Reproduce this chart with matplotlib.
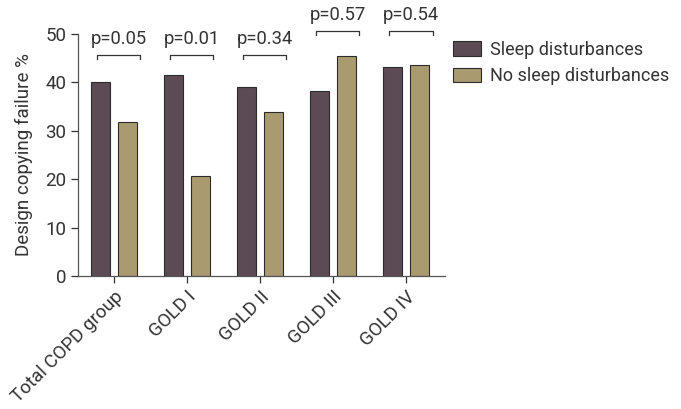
import numpy as np
from matplotlib import pyplot as plt

groups = ['Total COPD group', 'GOLD I', 'GOLD II', 'GOLD III', 'GOLD IV']
sleep = [40.0, 41.5, 38.9, 38.2, 43.0]
no_sleep = [31.8, 20.7, 33.8, 45.4, 43.6]
p_values = ['p=0.05', 'p=0.01', 'p=0.34', 'p=0.57', 'p=0.54']
bracket_y = [45.6, 45.6, 45.6, 50.6, 50.6]

dark = '#5c4b54'
light = '#a99b6f'
grey = '#333333'

plt.rcParams['font.family'] = ['Roboto', 'DejaVu Sans']

fig = plt.figure(figsize=(6.81, 4.09), dpi=100)
ax = fig.add_axes([0.1145, 0.3252, 0.539, 0.5928])

x = np.arange(len(groups))
w = 0.26
ax.bar(x - 0.185, sleep, w, color=dark, edgecolor='#2b2b2b', linewidth=0.8,
       label='Sleep disturbances')
ax.bar(x + 0.185, no_sleep, w, color=light, edgecolor='#2b2b2b', linewidth=0.8,
       label='No sleep disturbances')

# significance brackets
for i in range(len(groups)):
    y = bracket_y[i]
    x0, x1 = x[i] - 0.23, x[i] + 0.36
    ax.plot([x0, x0, x1, x1], [y - 0.8, y, y, y - 0.8], color=grey,
            linewidth=0.9, clip_on=False)
    ax.text((x0 + x1) / 2, y + 1.4, p_values[i], ha='center', va='bottom',
            fontsize=13.2, color=grey, clip_on=False)

ax.set_xlim(-0.49, 4.53)
ax.set_ylim(0, 50)
ax.set_yticks(range(0, 51, 10))
ax.set_xticks(x)
ax.set_xticklabels(groups, rotation=45, ha='right', rotation_mode='anchor')
ax.tick_params(axis='both', labelsize=13.5, colors=grey, direction='out',
               length=5, width=0.9)
ax.set_ylabel('Design copying failure %', fontsize=13.5, color=grey, labelpad=9)

for s in ['top', 'right']:
    ax.spines[s].set_visible(False)
for s in ['left', 'bottom']:
    ax.spines[s].set_color('#555555')
    ax.spines[s].set_linewidth(0.9)

fig.legend(loc='upper left', bbox_to_anchor=(0.665, 0.90), frameon=False,
           fontsize=13, handlelength=1.55, handleheight=0.85, labelspacing=0.45,
           handletextpad=0.5, borderpad=0, borderaxespad=0, labelcolor=grey)

fig.savefig('out.png', dpi=100)
